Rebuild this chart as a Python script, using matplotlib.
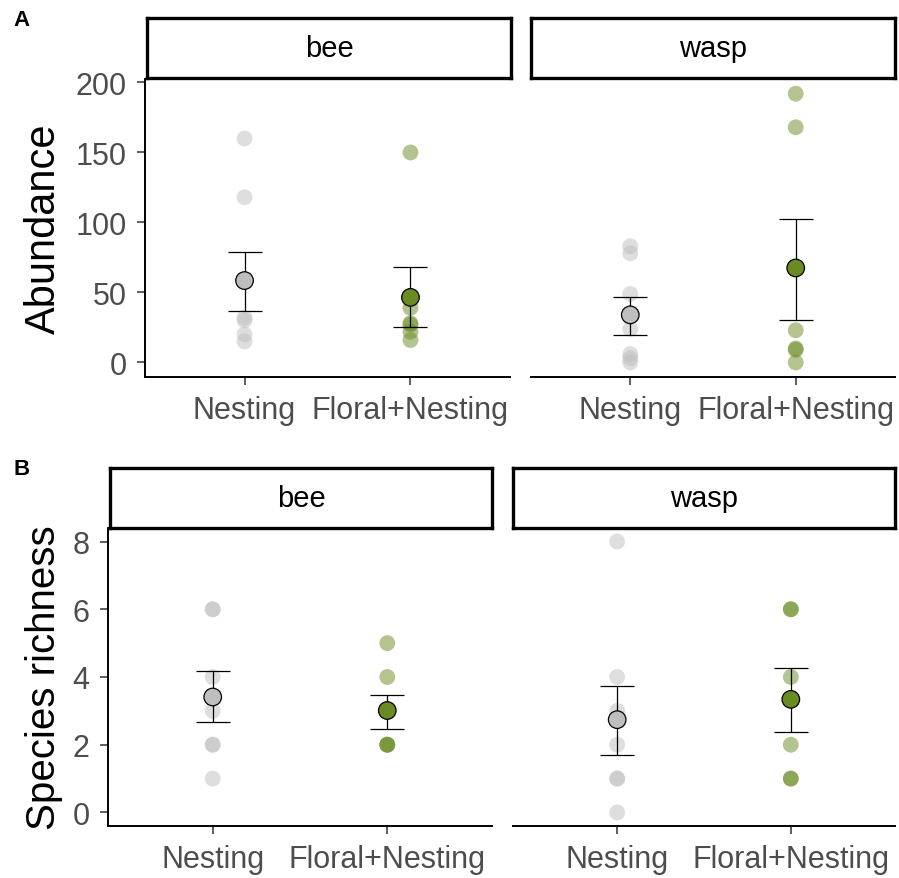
#!/usr/bin/env python3
"""Abundance and species richness of bees and wasps by habitat treatment."""

import matplotlib.pyplot as plt

plt.rcParams["font.family"] = ["Liberation Sans", "DejaVu Sans"]

W, H = 899, 879
DPI = 100

taxa = ["bee", "wasp"]
treatments = ["Nesting", "Floral+Nesting"]

# raw site values per taxon, in treatment order
abund_bee_nesting = [160, 118, 32, 30, 20, 15]
abund_bee_floral = [150, 39, 28, 27, 22, 16]
abund_wasp_nesting = [83, 78, 49, 24, 6, 3, 0]
abund_wasp_floral = [192, 168, 23, 10, 9, 0]

rich_bee_nesting = [6, 6, 4, 3, 2, 2, 1]
rich_bee_floral = [5, 4, 3, 2, 2, 2]
rich_wasp_nesting = [8, 4, 3, 2, 1, 1, 0]
rich_wasp_floral = [6, 6, 4, 2, 1, 1]

# model estimates with lower / upper interval
abund_mean = {"bee": [58.5, 46.5], "wasp": [34.0, 67.5]}
abund_low = {"bee": [36.5, 25.6], "wasp": [19.6, 30.6]}
abund_high = {"bee": [78.7, 68.0], "wasp": [47.0, 102.5]}

rich_mean = {"bee": [3.41, 3.01], "wasp": [2.74, 3.34]}
rich_low = {"bee": [2.68, 2.47], "wasp": [1.69, 2.39]}
rich_high = {"bee": [4.18, 3.48], "wasp": [3.73, 4.26]}

abund_raw = {"bee": [abund_bee_nesting, abund_bee_floral],
             "wasp": [abund_wasp_nesting, abund_wasp_floral]}
rich_raw = {"bee": [rich_bee_nesting, rich_bee_floral],
            "wasp": [rich_wasp_nesting, rich_wasp_floral]}

fill_colors = ["#BEBEBE", "#698B22"]
TICK_COLOR = "#4D4D4D"


def px_axes(fig, x0, y0, x1, y1):
    """Add an axes from pixel box (origin top-left)."""
    return fig.add_axes([x0 / W, 1 - y1 / H, (x1 - x0) / W, (y1 - y0) / H])


def strip(fig, box, label):
    ax = px_axes(fig, *box)
    ax.set_xticks([])
    ax.set_yticks([])
    for s in ax.spines.values():
        s.set_linewidth(2.4)
        s.set_color("black")
    ax.text(0.5, 0.5, label, ha="center", va="center", fontsize=21,
            transform=ax.transAxes)


def panel(ax, raw, mean, low, high, ylim, yticks, show_y):
    x = [1, 2]
    for i, vals in enumerate(raw):
        ax.scatter([x[i]] * len(vals), vals, s=130, color=fill_colors[i],
                   alpha=0.5, edgecolors="none", zorder=2)
    yerr = [[m - lo for m, lo in zip(mean, low)],
            [hi - m for m, hi in zip(mean, high)]]
    ax.errorbar(x, mean, yerr=yerr, fmt="none", ecolor="black",
                elinewidth=0.9, capsize=12, capthick=0.9, zorder=3)
    ax.scatter(x, mean, s=160, c=fill_colors, edgecolors="black",
               linewidths=0.9, zorder=4)

    ax.set_xlim(0.4, 2.6)
    ax.set_ylim(*ylim)
    ax.set_xticks(x)
    ax.set_xticklabels(treatments)
    ax.set_yticks(yticks)
    ax.spines["top"].set_visible(False)
    ax.spines["right"].set_visible(False)
    for s in ("left", "bottom"):
        ax.spines[s].set_linewidth(1.4)
    ax.tick_params(axis="both", length=5.8, width=1.1, color="#333333",
                   labelcolor=TICK_COLOR, labelsize=22)
    ax.tick_params(axis="x", pad=7)
    ax.tick_params(axis="y", pad=7.5)
    if not show_y:
        ax.spines["left"].set_visible(False)
        ax.tick_params(axis="y", left=False, labelleft=False)


fig = plt.figure(figsize=(W / DPI, H / DPI), dpi=DPI)

# row A: abundance
a_boxes = {"bee": (145, 80, 510, 378), "wasp": (531, 80, 895, 378)}
a_strips = {"bee": (147, 19, 511, 79), "wasp": (531, 19, 895, 79)}
for k, t in enumerate(taxa):
    ax = px_axes(fig, *a_boxes[t])
    panel(ax, abund_raw[t], abund_mean[t], abund_low[t], abund_high[t],
          (-10.4, 202.5), [0, 50, 100, 150, 200], show_y=(k == 0))
    if k == 0:
        ax.set_ylabel("Abundance", fontsize=30)
        ax.yaxis.set_label_coords(-0.222, 0.5)
    strip(fig, a_strips[t], t)

# row B: species richness
b_boxes = {"bee": (108, 529, 492, 827), "wasp": (513, 529, 895, 827)}
b_strips = {"bee": (110, 469, 492, 529), "wasp": (513, 469, 895, 529)}
for k, t in enumerate(taxa):
    ax = px_axes(fig, *b_boxes[t])
    panel(ax, rich_raw[t], rich_mean[t], rich_low[t], rich_high[t],
          (-0.4, 8.4), [0, 2, 4, 6, 8], show_y=(k == 0))
    if k == 0:
        ax.set_ylabel("Species richness", fontsize=29)
        ax.yaxis.set_label_coords(-0.117, 0.5)
    strip(fig, b_strips[t], t)

fig.text(21 / W, 1 - 20 / H, "A", fontsize=16, fontweight="bold",
         ha="center", va="center")
fig.text(22 / W, 1 - 470 / H, "B", fontsize=16, fontweight="bold",
         ha="center", va="center")

fig.savefig("out.png", dpi=DPI)
